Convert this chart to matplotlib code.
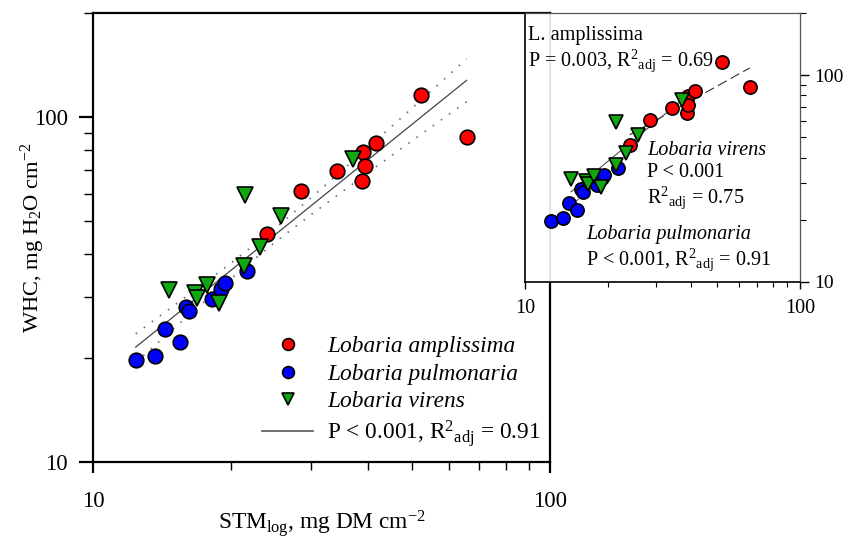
import matplotlib
matplotlib.use('Agg')
import matplotlib.pyplot as plt
from matplotlib.ticker import LogLocator, FixedLocator, FixedFormatter, NullFormatter

plt.rcParams['font.family'] = ['Liberation Serif', 'DejaVu Serif']
plt.rcParams['mathtext.fontset'] = 'custom'
plt.rcParams['mathtext.rm'] = 'Liberation Serif'
plt.rcParams['mathtext.it'] = 'Liberation Serif:italic'
plt.rcParams['mathtext.sf'] = 'Liberation Sans'

# data (STM, WHC)
amp_x = [24.0, 28.5, 34.2, 38.8, 39.0, 39.3, 41.6, 52.1, 65.7]
amp_y = [45.9, 61.0, 69.8, 65.4, 79.2, 72.1, 84.0, 116.0, 87.5]
pul_x = [12.4, 13.7, 14.4, 15.5, 16.0, 16.2, 18.2, 19.1, 19.4, 21.7]
pul_y = [19.7, 20.3, 24.2, 22.2, 28.1, 27.3, 29.6, 31.8, 33.0, 35.7]
vir_x = [14.7, 16.7, 16.9, 17.8, 18.9, 21.4, 23.2, 21.5, 25.8, 37.1]
vir_y = [31.5, 30.8, 29.8, 32.5, 28.8, 36.9, 42.0, 59.3, 51.5, 75.8]

# pooled regression + confidence band
fit_x = [12.4, 65.7]
fit_y = [21.5, 127.8]
band_x = [12.4, 15, 20, 25, 30, 40, 50, 65.7]
band_hi = [23.5, 28.3, 37.6, 47.5, 58.3, 81.6, 106.4, 147.4]
band_lo = [19.4, 24.3, 33.9, 43.3, 52.1, 69.0, 85.5, 110.8]

# per-species regressions (inset)
amp_fit_x, amp_fit_y = [24.0, 65.7], [51.5, 108.5]
vir_fit_x, vir_fit_y = [14.7, 37.1], [27.3, 75.6]
pul_fit_x, pul_fit_y = [12.4, 21.7], [19.3, 36.6]

RED, BLUE, GREEN = '#ff0000', '#0000ff', '#10a810'
adj = r'R$^{2}{}_{\mathrm{adj}}$'

fig = plt.figure(figsize=(8.45, 5.4), dpi=100)

# ---- main axes
ax = fig.add_axes([93/845, 1-461.7/540, (550-93)/845, (461.7-13.3)/540])
ax.set_xscale('log')
ax.set_yscale('log')
ax.set_xlim(10, 100)
ax.set_ylim(10, 200)

ax.plot(band_x, band_hi, color='#7a6a80', lw=1.2, ls=(0, (1, 5)))
ax.plot(band_x, band_lo, color='#7a6a80', lw=1.2, ls=(0, (1, 5)))
ax.plot(fit_x, fit_y, color='#444444', lw=0.9)

mk = dict(ls='none', mec='black', mew=1.2)
ax.plot(amp_x, amp_y, 'o', mfc=RED, ms=10.5, **mk)
ax.plot(pul_x, pul_y, 'o', mfc=BLUE, ms=10.5, **mk)
ax.plot(vir_x, vir_y, 'v', mfc=GREEN, ms=11, **mk)

# legend proxies
h1, = ax.plot([], [], 'o', mfc=RED, ms=8.5, **mk)
h2, = ax.plot([], [], 'o', mfc=BLUE, ms=8.5, **mk)
h3, = ax.plot([], [], 'v', mfc=GREEN, ms=8.5, **mk)
h4, = ax.plot([], [], color='#555555', lw=1.2)
leg = ax.legend([h1, h2, h3, h4],
                ['Lobaria amplissima', 'Lobaria pulmonaria', 'Lobaria virens',
                 'P < 0.001, ' + adj + ' = 0.91'],
                loc='upper left', bbox_to_anchor=(0.37, 0.28), frameon=False,
                fontsize=16.8, handlelength=2.2, handletextpad=0.6,
                labelspacing=0.26, borderaxespad=0, borderpad=0)
for t in leg.get_texts()[:3]:
    t.set_style('italic')

for s in ax.spines.values():
    s.set_linewidth(1.6)
ax.xaxis.set_major_locator(FixedLocator([10, 100]))
ax.xaxis.set_major_formatter(FixedFormatter(['10', '100']))
ax.yaxis.set_major_locator(FixedLocator([10, 100]))
ax.yaxis.set_major_formatter(FixedFormatter(['10', '100']))
ax.xaxis.set_minor_locator(LogLocator(subs=range(2, 10)))
ax.yaxis.set_minor_locator(LogLocator(subs=range(2, 10)))
ax.xaxis.set_minor_formatter(NullFormatter())
ax.yaxis.set_minor_formatter(NullFormatter())
ax.tick_params(axis='x', which='major', length=8, width=1.6, pad=13, labelsize=16.5)
ax.tick_params(axis='x', which='minor', length=6, width=1.0)
ax.tick_params(axis='y', which='major', length=10, width=1.6, pad=8, labelsize=16.5)
ax.tick_params(axis='y', which='minor', length=6.5, width=1.0)
ax.set_xlabel(r'STM$_{\mathrm{log}}$, mg DM cm$^{-2}$', fontsize=16.8, va='top')
ax.set_ylabel(r'WHC, mg H$_2$O cm$^{-2}$', fontsize=16.2)
ax.xaxis.set_label_coords(0.5, -0.103)
ax.yaxis.set_label_coords(-0.10, 0.5)

# ---- inset
ins = fig.add_axes([525/845, 1-282/540, (800-525)/845, (282-13)/540])
ins.patch.set_facecolor('white')
ins.patch.set_alpha(0.9)
ins.set_xscale('log')
ins.set_yscale('log')
ins.set_xlim(10, 100)
ins.set_ylim(10, 200)

ins.plot(amp_fit_x, amp_fit_y, color='#333333', lw=0.8, ls=(0, (9, 4)))
ins.plot(vir_fit_x, vir_fit_y, color='#555555', lw=0.8)
ins.plot(pul_fit_x, pul_fit_y, color='#555555', lw=0.8, ls=(0, (6, 3)))

ins.plot(amp_x, amp_y, 'o', mfc=RED, ms=9.5, **mk)
ins.plot(pul_x, pul_y, 'o', mfc=BLUE, ms=9.5, **mk)
ins.plot(vir_x, vir_y, 'v', mfc=GREEN, ms=10, **mk)

ins.spines['left'].set_linewidth(1.2)
ins.spines['bottom'].set_linewidth(1.2)
ins.spines['top'].set_linewidth(0.9)
ins.spines['top'].set_color('#555555')
ins.spines['right'].set_linewidth(0.9)
ins.spines['right'].set_color('#555555')
ins.yaxis.tick_right()
ins.xaxis.set_major_locator(FixedLocator([10, 100]))
ins.xaxis.set_major_formatter(FixedFormatter(['10', '100']))
ins.yaxis.set_major_locator(FixedLocator([10, 100]))
ins.yaxis.set_major_formatter(FixedFormatter(['10', '100']))
ins.xaxis.set_minor_locator(LogLocator(subs=range(2, 10)))
ins.yaxis.set_minor_locator(LogLocator(subs=range(2, 10)))
ins.xaxis.set_minor_formatter(NullFormatter())
ins.yaxis.set_minor_formatter(NullFormatter())
ins.tick_params(axis='x', which='major', length=5, width=1.0, pad=7, labelsize=14.5)
ins.tick_params(axis='x', which='minor', length=3.5, width=0.8)
ins.tick_params(axis='y', which='major', length=6.5, width=1.0, pad=3.5, labelsize=14)
ins.tick_params(axis='y', which='minor', length=4, width=0.8)

tk = dict(transform=fig.transFigure, fontsize=14.6, ha='left', va='baseline')
fig.text(528/845, 1-40/540, 'L. amplissima', **tk)
fig.text(528/845, 1-66/540, 'P = 0.003, ' + adj + ' = 0.69', **tk)
fig.text(647/845, 1-155/540, 'Lobaria virens', style='italic', **tk)
fig.text(647/845, 1-177/540, 'P < 0.001', **tk)
fig.text(647/845, 1-203/540, adj + ' = 0.75', **tk)
fig.text(586/845, 1-239/540, 'Lobaria pulmonaria', style='italic', **tk)
fig.text(586/845, 1-265/540, 'P < 0.001, ' + adj + ' = 0.91', **tk)

fig.savefig('out.png', dpi=100)
